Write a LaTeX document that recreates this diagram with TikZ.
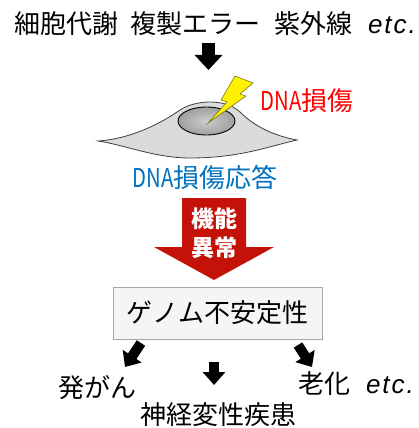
\documentclass[tikz,border=0pt]{standalone}
\usepackage{fontspec}
\usepackage{graphicx}
\setmainfont{Noto Sans CJK JP}
\newfontfamily\latinfont{Liberation Sans}
\usetikzlibrary{arrows.meta}
\definecolor{rojoflecha}{RGB}{196,18,8}
\definecolor{azuldna}{RGB}{0,112,192}
\newcommand{\etcit}{{\latinfont\itshape e\kern2pt t\kern2pt c\kern2pt.}}
\newcommand{\dnaletras}{\scalebox{0.78}[1]{DNA}}

\begin{document}
\begin{tikzpicture}[x=1pt,y=-1pt,font=\fontsize{26pt}{30pt}\selectfont,
  every node/.style={inner sep=0pt},
  flecha/.style={line width=10pt,-{Triangle[length=13pt,width=22pt]}}]
  \useasboundingbox (0,0) rectangle (418,428);
  % causas
  \node (causas) at (215,24) {細胞代謝\hspace{12pt}複製エラー\hspace{14pt}紫外線\hspace{16pt}\etcit};
  \coordinate (a1) at (208.5,43); \coordinate (a2) at (208.5,70);
  \draw[line width=13pt,-{Triangle[length=15pt,width=27pt]}] (a1)--(a2);
  % celula y nucleo
  \filldraw[fill=gray!28,draw=black!75,line width=0.8pt] (98,141) .. controls (130,139) and (160,124) .. (180,110)
    .. controls (195,100) and (225,98) .. (240,112) .. controls (255,127) and (275,136) .. (297,140)
    .. controls (270,146) and (240,158) .. (190,158) .. controls (155,158) and (125,145) .. (98,141) -- cycle;
  \shade[inner color=gray!40,outer color=gray!75] (206.5,121) ellipse (28.5 and 14);
  \draw[line width=0.9pt] (206.5,121) ellipse (28.5 and 14);
  % rayo
  \filldraw[fill=yellow,draw=olive!80!black,line width=0.6pt] (235,76)--(253,83)--(240,94)--(246,96)--(208,123)--(227,102)--(221,100)--cycle;
  \node[text=red] (dano) at (307,101) {\dnaletras 損傷};
  \node[text=azuldna] (respuesta) at (205,178) {\dnaletras 損傷応答};
  % flecha roja
  \fill[rojoflecha] (182,198)--(246,198)--(246,247)--(274,247)--(214,280)--(154,247)--(182,247)--cycle;
  \node[text=white,font=\bfseries\fontsize{23pt}{29pt}\selectfont,align=center] (disfuncion) at (214,233) {機能\\異常};
  % inestabilidad genomica
  \node[draw=gray!70,fill=gray!8,line width=1pt,minimum width=209pt,minimum height=52pt] (genoma) at (217.5,313) {ゲノム不安定性};
  \node (gan) at (97,388) {発がん};
  \node (shinkei) at (218,415) {神経変性疾患};
  \node (roka) at (356,384) {老化\hspace{16pt}\etcit};
  \coordinate (b1) at (141,343); \coordinate (b2) at (125,367);
  \coordinate (c1) at (214,362); \coordinate (c2) at (214,385);
  \coordinate (d1) at (298,345); \coordinate (d2) at (312,367);
  \draw[flecha] (b1)--(b2); \draw[flecha] (c1)--(c2); \draw[flecha] (d1)--(d2);
\end{tikzpicture}
\end{document}
